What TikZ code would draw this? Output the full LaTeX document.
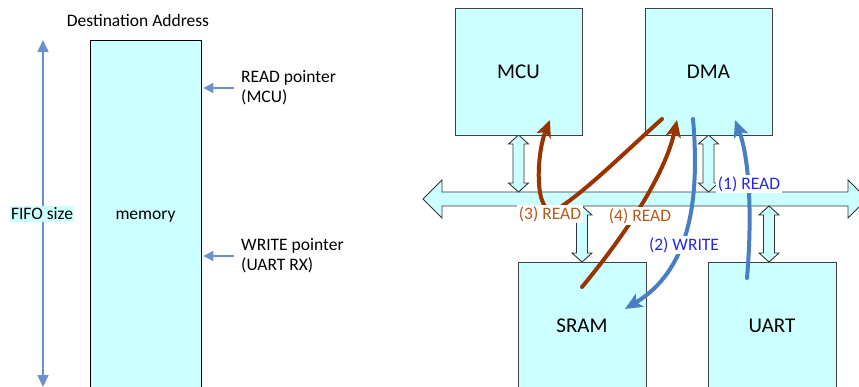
\documentclass[tikz,border=0pt]{standalone}
\usepackage{fontspec}
\setmainfont{Carlito}
\usetikzlibrary{arrows.meta}
\definecolor{boxfill}{HTML}{CCFFFF}
\definecolor{brn}{HTML}{993300}
\definecolor{blu}{HTML}{4A7EC4}
\definecolor{brntxt}{HTML}{B35A1F}
\definecolor{blutxt}{HTML}{2626E6}
\definecolor{ptr}{HTML}{6A8FD0}
\newcommand\vdblarrow[3]{\draw[busshape] (#1,#2) -- ++(10,9) -- ++(-4.5,0) -- (#1+5.5,#3-9) -- ++(4.5,0) -- (#1,#3) -- ++(-10,-9) -- ++(4.5,0) -- (#1-5.5,#2+9) -- ++(-4.5,0) -- cycle;}
\begin{document}
\begin{tikzpicture}[x=1pt,y=-1pt,
  unitbox/.style={draw=black!75, line width=0.9pt, fill=boxfill, minimum width=127pt, minimum height=127pt, inner sep=0pt, font=\fontsize{21}{24}\selectfont},
  lbl/.style={font=\fontsize{17.5}{20}\selectfont},
  flowlbl/.style={lbl, fill=white, inner sep=1.5pt},
  bigarrow/.style={line width=4pt, line cap=round, -{Stealth[length=17pt,width=15pt,inset=4pt]}},
  busshape/.style={draw=black!80, line width=0.9pt, fill=boxfill},
  ptrarrow/.style={draw=ptr, line width=1.5pt, -{Triangle[length=10pt,width=10pt]}},
  fifoarrow/.style={draw=ptr, line width=1.5pt, {Triangle[length=12pt,width=11pt]}-{Triangle[length=12pt,width=11pt]}},
]
\useasboundingbox (0,0) rectangle (859,387);

% left part
\node[lbl] (dest) at (138,20) {Destination Address};
\node[unitbox, draw=black, minimum width=111pt, minimum height=352pt, font=\fontsize{17.5}{20}\selectfont] (mem) at (145.5,216.7) {memory};
\coordinate (fifotop) at (43,40);
\coordinate (fifobot) at (43,387);
\draw[fifoarrow] (fifobot) -- (fifotop);
\node[lbl, fill=boxfill, inner sep=1.5pt] (fifo) at (42,214) {FIFO size};
\node[lbl, align=left, anchor=west, inner sep=0pt] (rp) at (241,88) {READ pointer\\(MCU)};
\node[lbl, align=left, anchor=west, inner sep=0pt] (wp) at (241,256) {WRITE pointer\\(UART RX)};
\draw[ptrarrow] ([xshift=-7pt]rp.west) -- ([xshift=2pt]mem.east |- rp.west);
\draw[ptrarrow] ([xshift=-7pt]wp.west) -- ([xshift=2pt]mem.east |- wp.west);

% bus
\draw[busshape] (423,199) -- (442,180) -- (442,192) -- (848,192) -- (848,180) -- (867,199) -- (848,218) -- (848,206) -- (442,206) -- (442,218) -- cycle;
\vdblarrow{518.5}{135}{192}
\vdblarrow{708.5}{135}{192}
\vdblarrow{582}{206}{262}
\vdblarrow{769}{206}{262}

% units
\node[unitbox] (mcu) at (518.5,71.5) {MCU};
\node[unitbox] (dma) at (708.5,71.5) {DMA};
\node[unitbox, minimum width=128pt] (sram) at (582,325.5) {SRAM};
\node[unitbox, minimum width=128pt] (uart) at (772,325.5) {UART};

% flows
\draw[brn, bigarrow] (662,119) .. controls (625,152) and (585,192) .. (556,210) .. controls (534,218) and (536,155) .. (550,120);
\draw[brn, bigarrow] (582,287) .. controls (625,235) and (665,175) .. (677,120);
\draw[blu, bigarrow] (693,119) .. controls (700,200) and (690,270) .. (625,309);
\draw[blu, bigarrow] (747,278) .. controls (752,220) and (750,160) .. (735,120);

\node[flowlbl, text=brntxt] (l3) at (550,214) {(3) READ};
\node[flowlbl, text=brntxt] (l4) at (640,216) {(4) READ};
\node[flowlbl, text=blutxt] (l2) at (684,245) {(2) WRITE};
\node[flowlbl, text=blutxt] (l1) at (749,184) {(1) READ};
\end{tikzpicture}
\end{document}
